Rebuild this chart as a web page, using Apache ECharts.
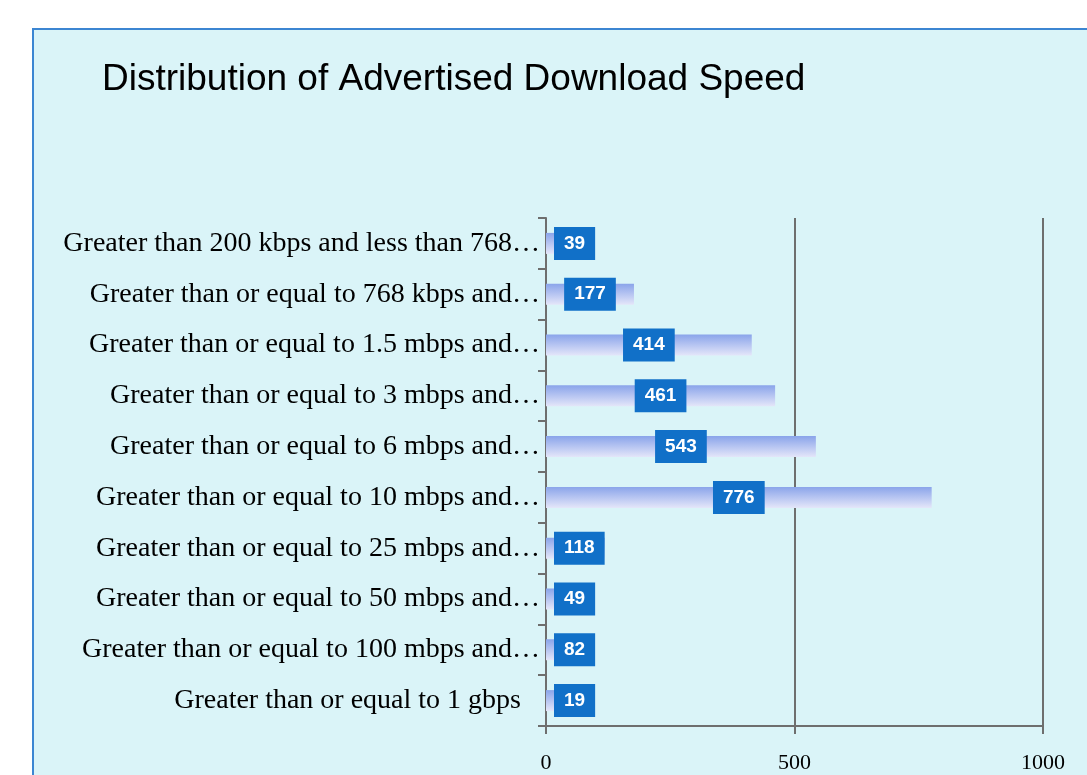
<!DOCTYPE html>
<html>
<head>
<meta charset="utf-8">
<script src="https://cdn.jsdelivr.net/npm/echarts@6/dist/echarts.min.js"></script>
<style>
html,body{margin:0;padding:0;background:#ffffff;}
#chart{width:1087px;height:775px;}
</style>
</head>
<body>
<div id="chart"></div>
<script>
var categories = [
  'Greater than 200 kbps and less than 768…',
  'Greater than or equal to 768 kbps and…',
  'Greater than or equal to 1.5 mbps and…',
  'Greater than or equal to 3 mbps and…',
  'Greater than or equal to 6 mbps and…',
  'Greater than or equal to 10 mbps and…',
  'Greater than or equal to 25 mbps and…',
  'Greater than or equal to 50 mbps and…',
  'Greater than or equal to 100 mbps and…',
  'Greater than or equal to 1 gbps'
];
var values = [39, 177, 414, 461, 543, 776, 118, 49, 82, 19];
var xTicks = [0, 500, 1000];
var titleText = 'Distribution of Advertised Download Speed';

var chart = echarts.init(document.getElementById('chart'), null, {renderer: 'canvas'});

var gridLeft = 546, gridRight = 44;
var plotW = 1087 - gridLeft - gridRight;
var pxPerUnit = plotW / xTicks[xTicks.length - 1];

var data = values.map(function (v) {
  var digits = String(v).length;
  var halfBox = digits >= 3 ? 26 : 20;
  var small = v * pxPerUnit / 2 - halfBox < 8;
  return {
    value: v,
    label: small ? {position: 'insideLeft', distance: 8} : {position: 'inside'}
  };
});

var catData = categories.map(function (c) {
  var truncated = c.charAt(c.length - 1) === '…';
  return truncated ? c : {value: c, textStyle: {padding: [0, 19, 0, 0]}};
});

chart.setOption({
  backgroundColor: '#ffffff',
  animation: false,
  graphic: [{
    type: 'rect',
    z: -10,
    shape: {x: 33, y: 29, width: 1100, height: 800},
    style: {fill: '#daf4f8', stroke: '#3c86d2', lineWidth: 2}
  }],
  title: {
    text: titleText,
    left: 97,
    top: 56,
    textStyle: {fontFamily: 'Liberation Sans', fontSize: 37, fontWeight: 'normal', color: '#000000'}
  },
  grid: {left: gridLeft, right: gridRight, top: 218, bottom: 49, containLabel: false},
  xAxis: {
    type: 'value',
    min: xTicks[0], max: xTicks[xTicks.length - 1], interval: xTicks[1] - xTicks[0],
    axisLine: {show: true, lineStyle: {color: '#6e6e6e', width: 2}},
    axisTick: {show: true, length: 8, lineStyle: {color: '#6e6e6e', width: 2}},
    axisLabel: {fontFamily: 'Liberation Serif', fontSize: 22, color: '#000', margin: 26,
      formatter: function (v) { return String(v); }},
    splitLine: {show: true, lineStyle: {color: '#6e6e6e', width: 2}}
  },
  yAxis: {
    type: 'category',
    data: catData,
    inverse: true,
    axisLine: {show: true, lineStyle: {color: '#6e6e6e', width: 2}},
    axisTick: {show: true, length: 8, lineStyle: {color: '#6e6e6e', width: 2}},
    axisLabel: {fontFamily: 'Liberation Serif', fontSize: 28, color: '#000', margin: 6}
  },
  series: [{
    type: 'bar',
    data: data,
    barWidth: 21,
    itemStyle: {
      color: new echarts.graphic.LinearGradient(0, 0, 0, 1, [
        {offset: 0, color: '#8aa4ea'},
        {offset: 1, color: '#e4e6f9'}
      ])
    },
    label: {
      show: true,
      color: '#ffffff',
      fontFamily: 'Liberation Sans',
      fontWeight: 'bold',
      fontSize: 19,
      lineHeight: 19,
      backgroundColor: '#1170c8',
      padding: [8, 10, 6, 10]
    }
  }]
});
</script>
</body>
</html>
